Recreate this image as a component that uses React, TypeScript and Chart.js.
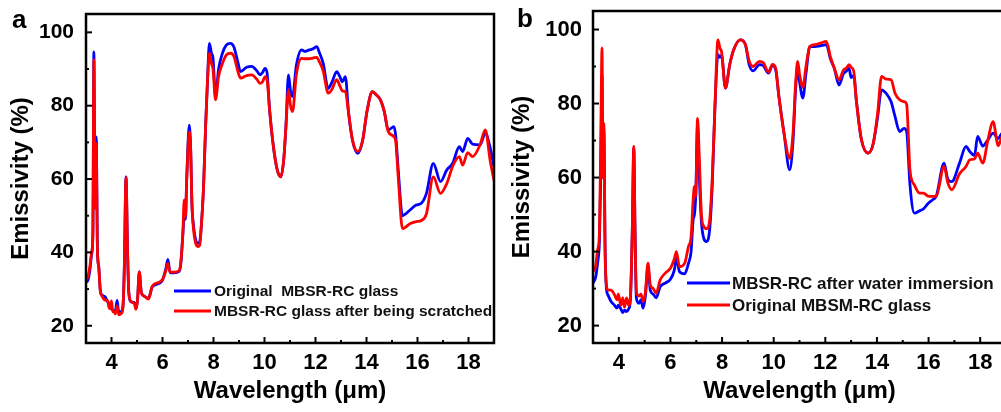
import React, { useEffect, useRef } from 'react';
import { Chart, registerables } from 'chart.js';

Chart.register(...registerables);

const FONT = '"Liberation Sans", Arial, Helvetica, sans-serif';

const xTicks = [4, 6, 8, 10, 12, 14, 16, 18];
const xMinorTicks = [5, 7, 9, 11, 13, 15, 17];
const yTicks = [20, 40, 60, 80, 100];
const yMinorTicks = [30, 50, 70, 90];

// Panel a
const waveA = [3.00,3.08,3.15,3.22,3.27,3.31,3.35,3.40,3.45,3.50,3.56,3.62,3.75,3.85,3.90,3.95,4.00,4.05,4.10,4.15,4.22,4.28,4.39,4.45,4.50,4.57,4.63,4.68,4.78,4.90,4.96,5.02,5.09,5.17,5.30,5.45,5.60,5.85,6.00,6.13,6.21,6.30,6.45,6.65,6.72,6.80,6.85,6.90,6.95,7.05,7.11,7.15,7.22,7.30,7.38,7.46,7.52,7.61,7.69,7.76,7.84,7.92,7.98,8.08,8.20,8.35,8.50,8.67,8.80,8.95,9.06,9.30,9.50,9.70,9.82,9.92,10.02,10.10,10.20,10.35,10.50,10.64,10.75,10.84,10.94,11.02,11.10,11.25,11.45,11.60,11.75,11.90,12.05,12.15,12.30,12.50,12.65,12.83,12.95,13.05,13.17,13.30,13.45,13.66,13.85,14.02,14.23,14.38,14.55,14.70,14.85,15.08,15.15,15.25,15.41,15.55,15.70,15.95,16.15,16.35,16.62,16.90,17.15,17.38,17.64,17.77,17.97,18.16,18.45,18.66,18.85,19.00];
const aOriginal = [31.8,32.5,35.0,39.5,45.0,94.7,55.0,71.5,40.6,36.1,29.7,28.4,27.9,26.5,26.0,25.2,24.6,24.3,24.0,24.0,26.9,23.8,23.9,25.5,35.0,60.6,40.0,28.9,26.5,26.3,24.7,27.0,34.7,29.0,28.0,27.5,30.6,31.5,32.4,35.5,38.1,34.4,34.4,34.8,37.0,45.2,50.0,49.0,60.0,74.7,67.0,54.0,47.0,43.4,42.5,43.0,47.0,57.9,74.3,86.1,97.0,94.3,93.0,82.5,90.0,94.3,96.5,97.0,96.0,92.0,89.3,90.5,90.7,89.5,88.4,89.0,90.2,89.0,78.8,68.8,62.5,60.6,65.0,74.3,88.4,84.0,82.5,91.0,95.2,94.8,95.2,95.5,96.1,94.5,91.6,84.7,86.5,89.3,88.0,86.5,87.9,77.9,70.6,67.0,70.6,78.5,83.8,83.0,81.5,78.3,73.4,74.3,71.5,62.0,50.0,50.6,51.5,52.9,53.4,56.1,64.3,59.3,62.5,64.3,68.8,67.5,71.1,69.5,69.3,72.5,68.5,63.4];
const aScratched = [32.6,33.4,36.0,40.0,45.0,92.5,52.0,69.7,40.0,36.0,29.5,28.2,27.0,26.8,25.0,24.6,26.8,23.8,24.0,23.2,25.5,23.0,23.4,25.0,35.0,60.4,40.0,28.9,26.5,26.0,24.5,27.0,34.7,29.0,28.0,27.3,30.8,31.8,32.6,35.0,37.0,34.6,34.6,35.0,37.5,45.5,54.3,49.7,60.0,72.9,67.0,54.0,46.0,42.5,41.6,42.0,47.0,57.9,74.3,86.1,94.3,91.5,90.0,81.6,88.0,91.5,93.8,94.3,93.5,89.5,87.5,88.2,88.4,87.2,86.1,86.5,87.9,87.0,78.8,68.8,62.5,60.6,65.0,74.3,84.3,80.0,78.4,88.5,92.9,92.8,92.8,93.0,93.2,92.0,89.5,83.4,84.5,87.1,85.5,84.0,83.8,77.9,70.6,67.5,70.6,78.5,83.8,83.0,81.5,78.3,73.0,71.5,70.0,60.0,46.5,47.0,47.8,48.4,48.7,50.5,60.6,56.1,58.8,63.5,66.1,63.8,67.2,66.1,69.3,73.4,65.0,59.7];

// Panel b
const waveB = [3.00,3.10,3.18,3.25,3.30,3.35,3.38,3.42,3.47,3.52,3.58,3.70,3.82,3.93,3.98,4.08,4.15,4.22,4.30,4.38,4.45,4.52,4.58,4.63,4.68,4.78,4.86,4.94,5.03,5.13,5.22,5.33,5.45,5.60,5.80,6.00,6.15,6.23,6.35,6.55,6.70,6.80,6.88,6.93,6.98,7.05,7.12,7.20,7.29,7.40,7.52,7.62,7.72,7.84,7.92,7.98,8.13,8.30,8.45,8.70,8.90,9.05,9.20,9.45,9.60,9.80,9.95,10.08,10.20,10.40,10.62,10.75,10.85,10.93,11.00,11.13,11.25,11.40,11.60,11.80,12.04,12.20,12.35,12.53,12.70,12.82,12.92,13.00,13.10,13.20,13.40,13.66,13.85,14.02,14.18,14.35,14.55,14.70,14.88,15.05,15.15,15.28,15.45,15.65,15.80,15.98,16.16,16.30,16.60,16.75,16.90,17.20,17.45,17.60,17.78,17.90,18.10,18.30,18.50,18.70,18.85,19.00];
const bImmersion = [31.5,33.0,37.0,43.0,60.0,88.0,60.0,73.0,40.0,30.0,28.3,26.5,25.6,24.7,25.5,24.5,23.5,24.2,23.8,24.5,27.0,45.0,68.0,45.0,27.5,26.0,27.0,24.7,28.0,36.0,29.5,28.5,27.5,30.5,31.5,32.5,35.0,38.2,34.6,34.0,36.9,40.0,48.6,50.0,55.0,74.2,60.0,48.0,43.6,42.7,46.0,58.0,78.3,93.2,92.5,93.0,84.2,90.6,94.5,97.2,96.0,90.5,88.8,90.5,90.2,88.2,90.3,89.0,82.0,72.0,62.1,70.0,84.0,89.5,86.0,81.5,88.0,95.4,95.4,95.6,95.9,92.0,89.5,85.0,88.0,88.8,89.5,87.0,87.6,81.0,70.2,66.6,69.0,76.0,83.7,82.8,80.5,76.5,72.4,73.3,72.5,58.0,50.4,51.0,51.5,53.0,54.0,55.0,63.9,59.5,58.9,63.9,68.4,67.0,66.0,71.1,68.5,70.2,72.0,70.5,72.0,69.0];
const bOriginal = [34.6,36.0,40.5,45.0,70.0,95.0,60.0,74.7,40.0,31.0,29.6,29.6,28.5,27.0,28.5,25.5,27.5,25.0,27.5,25.5,28.0,45.0,68.4,45.0,29.0,28.0,28.5,26.5,29.0,36.9,31.0,30.0,28.8,32.3,34.2,35.5,38.0,40.0,35.9,36.8,41.4,44.0,54.0,57.6,55.0,76.0,65.0,50.0,46.8,46.2,48.5,60.0,78.3,97.2,94.9,94.0,84.2,90.6,94.5,97.2,96.0,91.5,90.0,91.4,91.0,88.5,90.6,89.5,82.0,72.0,65.2,72.0,85.5,91.4,88.0,84.4,90.0,95.4,95.9,96.3,96.8,92.5,89.5,86.4,89.0,89.6,90.5,89.8,88.8,81.0,70.2,66.6,69.0,77.0,87.3,86.6,86.4,82.8,81.0,80.5,79.8,62.0,58.0,55.8,55.8,55.0,54.9,55.0,63.0,58.5,56.7,61.0,63.0,64.8,65.0,66.6,63.9,70.2,75.1,68.6,71.0,67.0];

const labelsA = ['Original  MBSR-RC glass', 'MBSR-RC glass after being scratched'];
const labelsB = ['MBSR-RC after water immersion', 'Original MBSM-RC glass'];

const BLUE = '#0000ff';
const RED = '#ff0000';

interface PanelCfg {
  letter: string;
  wave: number[];
  s1: number[];
  s2: number[];
  labels: string[];
  canvasLeft: number;
  canvasWidth: number;
  area: { left: number; right: number; top: number; bottom: number };
  legend: { x0: number; x1: number; textX: number; rows: number[]; font: number };
  letterPos: { x: number; y: number };
  yTickFont: number;
  xTickFont: number;
  yTickPad: number;
  xTickPad: number;
  yTitlePad: number;
  xTitlePad: number;
}

const panelA: PanelCfg = {
  letter: 'a',
  wave: waveA,
  s1: aOriginal,
  s2: aScratched,
  labels: labelsA,
  canvasLeft: 0,
  canvasWidth: 500,
  area: { left: 86, right: 494, top: 14, bottom: 343 },
  legend: { x0: 174, x1: 211, textX: 214, rows: [291, 311], font: 15.5 },
  letterPos: { x: 12, y: 28 },
  yTickFont: 21,
  xTickFont: 22,
  yTickPad: 12,
  xTickPad: 7,
  yTitlePad: 7,
  xTitlePad: 6,
};

const panelB: PanelCfg = {
  letter: 'b',
  wave: waveB,
  s1: bImmersion,
  s2: bOriginal,
  labels: labelsB,
  canvasLeft: 500,
  canvasWidth: 510,
  area: { left: 93, right: 506, top: 11, bottom: 343 },
  legend: { x0: 187, x1: 230, textX: 232, rows: [283, 305], font: 17 },
  letterPos: { x: 17, y: 27 },
  yTickFont: 22,
  xTickFont: 22,
  yTickPad: 11,
  xTickPad: 7,
  yTitlePad: 8,
  xTitlePad: 6,
};

function makePlugin(cfg: PanelCfg) {
  return {
    id: 'frameLegend' + cfg.letter,
    afterDraw(chart: any) {
      const { ctx, chartArea } = chart;
      const { left, right, top, bottom } = chartArea;
      const xs = chart.scales.x;
      const ys = chart.scales.y;
      ctx.save();
      ctx.strokeStyle = '#000';
      ctx.lineCap = 'butt';
      ctx.lineWidth = 2;
      const seg = (x1: number, y1: number, x2: number, y2: number) => {
        ctx.beginPath();
        ctx.moveTo(x1, y1);
        ctx.lineTo(x2, y2);
        ctx.stroke();
      };
      xTicks.forEach((v) => { const p = xs.getPixelForValue(v); seg(p, bottom, p, bottom - 6); });
      xMinorTicks.forEach((v) => { const p = xs.getPixelForValue(v); seg(p, bottom, p, bottom - 3); });
      yTicks.forEach((v) => { const p = ys.getPixelForValue(v); seg(left, p, left + 6, p); });
      yMinorTicks.forEach((v) => { const p = ys.getPixelForValue(v); seg(left, p, left + 3, p); });
      ctx.lineWidth = 2.5;
      ctx.strokeRect(left, top, right - left, bottom - top);

      // legend
      const L = cfg.legend;
      chart.data.datasets.forEach((ds: any, i: number) => {
        const y = L.rows[i];
        ctx.strokeStyle = ds.borderColor;
        ctx.lineWidth = 3;
        seg(L.x0, y, L.x1, y);
        ctx.fillStyle = '#111';
        ctx.font = `bold ${L.font}px ${FONT}`;
        ctx.textAlign = 'left';
        ctx.textBaseline = 'middle';
        ctx.fillText(ds.label, L.textX, y + 1);
      });

      // panel letter
      ctx.fillStyle = '#000';
      ctx.font = `bold 26px ${FONT}`;
      ctx.textAlign = 'left';
      ctx.textBaseline = 'alphabetic';
      ctx.fillText(cfg.letter, cfg.letterPos.x, cfg.letterPos.y);
      ctx.restore();
    },
  };
}

function Panel({ cfg }: { cfg: PanelCfg }) {
  const ref = useRef<HTMLCanvasElement>(null);
  useEffect(() => {
    const canvas = ref.current;
    if (!canvas) return;
    const pts = (s: number[]) => cfg.wave.map((w, i) => ({ x: w, y: s[i] }));
    const common = { borderWidth: 2.8, pointRadius: 0, cubicInterpolationMode: 'monotone' };
    const chart = new Chart(canvas, {
      type: 'line',
      data: {
        datasets: [
          { label: cfg.labels[0], data: pts(cfg.s1), borderColor: BLUE, order: 2, ...common },
          { label: cfg.labels[1], data: pts(cfg.s2), borderColor: RED, order: 1, ...common },
        ],
      },
      options: {
        responsive: false,
        animation: false,
        devicePixelRatio: 1,
        layout: { padding: { left: 0, right: cfg.canvasWidth - cfg.area.right, top: cfg.area.top, bottom: 0 } },
        plugins: { legend: { display: false }, tooltip: { enabled: false } },
        scales: {
          x: {
            type: 'linear',
            min: 3,
            max: 19,
            afterBuildTicks: (s: any) => { s.ticks = xTicks.map((v) => ({ value: v })); },
            afterFit: (s: any) => {
              s.height = 412 - cfg.area.bottom;
              s.paddingLeft = 0; s.paddingRight = 0; s.paddingTop = 0; s.paddingBottom = 0;
            },
            grid: { display: false, drawTicks: false },
            border: { display: false },
            ticks: { color: '#000', font: { family: FONT, size: cfg.xTickFont, weight: 'bold' }, padding: cfg.xTickPad, maxRotation: 0, autoSkip: false },
            title: { display: true, text: 'Wavelength (μm)', color: '#000', font: { family: FONT, size: 24, weight: 'bold' }, padding: { top: 0, bottom: cfg.xTitlePad } },
          },
          y: {
            type: 'linear',
            min: 15.3,
            max: 105,
            afterBuildTicks: (s: any) => { s.ticks = yTicks.map((v) => ({ value: v })); },
            afterFit: (s: any) => {
              s.width = cfg.area.left;
              s.paddingLeft = 0; s.paddingRight = 0; s.paddingTop = 0; s.paddingBottom = 0;
            },
            grid: { display: false, drawTicks: false },
            border: { display: false },
            ticks: { color: '#000', font: { family: FONT, size: cfg.yTickFont, weight: 'bold' }, padding: cfg.yTickPad },
            title: { display: true, text: 'Emissivity (%)', color: '#000', font: { family: FONT, size: 24, weight: 'bold' }, padding: { top: cfg.yTitlePad, bottom: 0 } },
          },
        },
      },
      plugins: [makePlugin(cfg)],
    } as any);
    return () => chart.destroy();
  }, []);
  return (
    <canvas
      ref={ref}
      width={cfg.canvasWidth}
      height={412}
      style={{ position: 'absolute', left: cfg.canvasLeft, top: 0, width: cfg.canvasWidth, height: 412 }}
    />
  );
}

export default function App() {
  return (
    <div style={{ position: 'fixed', left: 0, top: 0, width: 1001, height: 412, overflow: 'hidden', background: '#fff' }}>
      <Panel cfg={panelA} />
      <Panel cfg={panelB} />
    </div>
  );
}
